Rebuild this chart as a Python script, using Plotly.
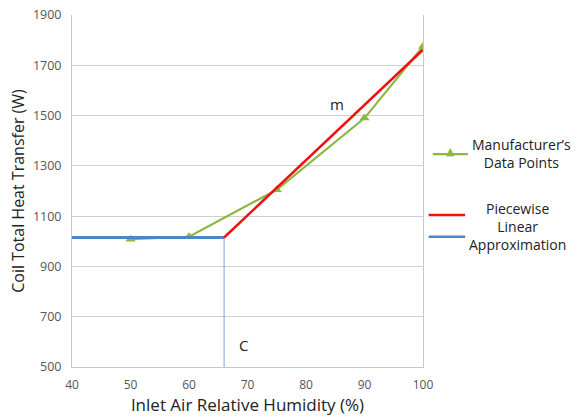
import plotly.graph_objects as go

# Manufacturer's data points
humidity = [50, 60, 75, 90, 100]
heat_transfer = [1008, 1018, 1205, 1490, 1775]

# Piecewise linear approximation: flat segment, then sloped segment
flat_x = [40, 66]
flat_y = [1015, 1015]
slope_x = [66, 100]
slope_y = [1015, 1762]

# Breakpoint marker line
break_x = 66

x_ticks = [40, 50, 60, 70, 80, 90, 100]
y_ticks = [500, 700, 900, 1100, 1300, 1500, 1700, 1900]

GREEN = "#8DB83F"
RED = "#F01010"
BLUE = "#4A86C8"
FONT = "Open Sans"
TEXT = "#222222"

fig = go.Figure()

fig.add_trace(go.Scatter(
    x=[break_x, break_x], y=[500, flat_y[0]], mode="lines",
    line=dict(color="#6A9AD4", width=0.9), showlegend=False, hoverinfo="skip"))
fig.add_trace(go.Scatter(
    x=humidity, y=heat_transfer, mode="lines+markers",
    line=dict(color=GREEN, width=2.2),
    marker=dict(symbol="triangle-up", size=9, color=GREEN),
    showlegend=False))
fig.add_trace(go.Scatter(
    x=flat_x, y=flat_y, mode="lines",
    line=dict(color=BLUE, width=3), showlegend=False))
fig.add_trace(go.Scatter(
    x=slope_x, y=slope_y, mode="lines",
    line=dict(color=RED, width=2.5), showlegend=False))

# In-plot labels
fig.add_annotation(x=85.3, y=1545, text="m", showarrow=False,
                   font=dict(family=FONT, size=15, color=TEXT))
fig.add_annotation(x=69.4, y=588, text="C", showarrow=False,
                   font=dict(family=FONT, size=15, color=TEXT))

# Hand-built legend on the right
fig.add_shape(type="line", xref="paper", yref="paper",
              x0=1.028, x1=1.128, y0=0.605, y1=0.605,
              line=dict(color=GREEN, width=2.2))
fig.add_annotation(xref="paper", yref="paper", x=1.078, y=0.613,
                   xanchor="center", yanchor="middle",
                   text="▲", showarrow=False,
                   font=dict(family="DejaVu Sans", size=11, color=GREEN))
fig.add_annotation(xref="paper", yref="paper", x=1.282, y=0.607,
                   xanchor="center", yanchor="middle",
                   text="Manufacturer’s<br>Data Points", showarrow=False,
                   align="center", font=dict(family=FONT, size=14, color=TEXT))
fig.add_shape(type="line", xref="paper", yref="paper",
              x0=1.016, x1=1.12, y0=0.432, y1=0.432,
              line=dict(color=RED, width=2.5))
fig.add_shape(type="line", xref="paper", yref="paper",
              x0=1.016, x1=1.12, y0=0.37, y1=0.37,
              line=dict(color=BLUE, width=2.5))
fig.add_annotation(xref="paper", yref="paper", x=1.268, y=0.398,
                   xanchor="center", yanchor="middle",
                   text="Piecewise<br>Linear<br>Approximation", showarrow=False,
                   align="center", font=dict(family=FONT, size=14, color=TEXT))

fig.update_layout(
    width=577, height=417,
    margin=dict(l=72, r=154, t=15, b=50),
    plot_bgcolor="white", paper_bgcolor="white",
    font=dict(family=FONT, color="#555"),
    xaxis=dict(range=[40, 100], tickvals=x_ticks, showgrid=False,
               showline=True, linecolor="#c8c8c8", linewidth=1,
               ticks="", ticklabelstandoff=7, automargin=False,
               tickfont=dict(size=12, color="#555"),
               title=dict(text="Inlet Air Relative Humidity (%)", standoff=3,
                          font=dict(family=FONT, size=17, color=TEXT)),
               zeroline=False),
    yaxis=dict(range=[500, 1900], tickvals=y_ticks, showgrid=True,
               gridcolor="#d0d0d0", gridwidth=1,
               showline=True, linecolor="#c8c8c8", linewidth=1, mirror=True,
               ticks="", ticklabelstandoff=7, automargin=False,
               tickfont=dict(size=12.5, color="#555"),
               title=dict(text="Coil Total Heat Transfer (W)", standoff=4,
                          font=dict(family=FONT, size=16, color=TEXT)),
               zeroline=False),
)

fig.write_html("out.html")
